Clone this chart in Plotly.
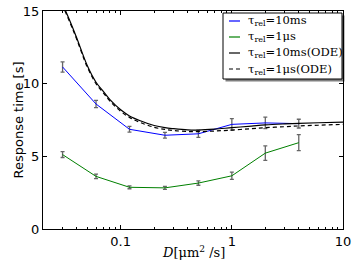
import plotly.graph_objects as go

D = [0.03, 0.06, 0.12, 0.25, 0.5, 1, 2, 4]
blue_vals = [11.15, 8.6, 6.86, 6.45, 6.55, 7.2, 7.3, 7.25]
blue_err = [0.35, 0.25, 0.2, 0.2, 0.25, 0.4, 0.4, 0.3]
green_vals = [5.12, 3.62, 2.87, 2.83, 3.16, 3.66, 5.22, 5.94]
green_err = [0.2, 0.15, 0.1, 0.1, 0.15, 0.25, 0.5, 0.55]

D_ode = [0.028, 0.035, 0.04, 0.05, 0.06, 0.07, 0.08, 0.1, 0.12, 0.15, 0.2, 0.25,
         0.3, 0.4, 0.5, 0.7, 1, 1.5, 2, 3, 4, 6, 10]
ode_10ms = [16.0, 14.3, 13.2, 11.25, 10.1, 9.45, 8.9, 8.2, 7.78, 7.45, 7.12, 6.97,
            6.9, 6.82, 6.81, 6.87, 6.97, 7.08, 7.16, 7.23, 7.27, 7.31, 7.36]
ode_1us = [15.9, 14.2, 13.1, 11.15, 10.0, 9.35, 8.8, 8.1, 7.68, 7.33, 7.0, 6.85,
           6.77, 6.71, 6.70, 6.74, 6.81, 6.9, 6.97, 7.04, 7.09, 7.14, 7.2]

names = ["τ<sub>rel</sub>=10ms", "τ<sub>rel</sub>=1μs",
         "τ<sub>rel</sub>=10ms(ODE)", "τ<sub>rel</sub>=1μs(ODE)"]
x_title = "<i>D</i>[μm<sup>2</sup> /s]"
y_title = "Response time [s]"

W, H = 354, 267
ML, MR, MT, MB = 43, 11, 11, 38
PW, PH = W - ML - MR, H - MT - MB


def px(x):
    return (x - ML) / PW


def py(y):
    return (H - MB - y) / PH


err_style = dict(type="data", visible=True, color="rgba(0,0,0,0.6)", thickness=1.3, width=2)
colors = ["#0000ff", "#008000", "black", "black"]
dashes = ["solid", "solid", "solid", "4px,3px"]

fig = go.Figure()
fig.add_trace(go.Scatter(x=D, y=blue_vals, mode="lines", name=names[0],
                         line=dict(color=colors[0], width=1),
                         error_y=dict(array=blue_err, **err_style)))
fig.add_trace(go.Scatter(x=D, y=green_vals, mode="lines", name=names[1],
                         line=dict(color=colors[1], width=1),
                         error_y=dict(array=green_err, **err_style)))
fig.add_trace(go.Scatter(x=D_ode, y=ode_10ms, mode="lines", name=names[2],
                         line=dict(color=colors[2], width=1.2, shape="spline")))
fig.add_trace(go.Scatter(x=D_ode, y=ode_1us, mode="lines", name=names[3],
                         line=dict(color=colors[3], width=1.2, dash=dashes[3], shape="spline")))

# matplotlib-like legend box with shadow
bx0, bx1, by0, by1 = 223, 342, 13, 79
fig.add_shape(type="rect", xref="paper", yref="paper",
              x0=px(bx0 + 2.5), x1=px(bx1 + 2.5), y0=py(by1 + 2.5), y1=py(by0 + 2.5),
              fillcolor="rgba(0,0,0,0.5)", line=dict(width=0), layer="above")
fig.add_shape(type="rect", xref="paper", yref="paper",
              x0=px(bx0), x1=px(bx1), y0=py(by1), y1=py(by0),
              fillcolor="white", line=dict(color="black", width=1), layer="above")
row_y = [21, 37, 53, 69]
for name, c, d, ry in zip(names, colors, dashes, row_y):
    fig.add_shape(type="line", xref="paper", yref="paper",
                  x0=px(229), x1=px(240), y0=py(ry), y1=py(ry),
                  line=dict(color=c, width=1.2, dash=d), layer="above")
    fig.add_annotation(text=name, xref="paper", yref="paper", x=px(246), y=py(ry),
                       xanchor="left", yanchor="middle", showarrow=False,
                       font=dict(family="DejaVu Serif", size=11.5, color="black"))

fig.add_annotation(text=x_title, xref="paper", yref="paper", x=0.5, y=py(252),
                   xanchor="center", yanchor="middle", showarrow=False,
                   font=dict(family="DejaVu Serif", size=13))
fig.add_annotation(text=y_title, xref="paper", yref="paper", x=px(17.5), y=0.5,
                   xanchor="center", yanchor="middle", showarrow=False, textangle=-90,
                   font=dict(family="DejaVu Sans", size=13))

fig.update_layout(
    width=W, height=H,
    margin=dict(l=ML, r=MR, t=MT, b=MB),
    paper_bgcolor="white", plot_bgcolor="white",
    font=dict(family="DejaVu Sans", size=13, color="black"),
    showlegend=False,
    xaxis=dict(type="log", range=[-1.69897, 1], showgrid=False, zeroline=False,
               automargin=False,
               showline=True, linecolor="black", linewidth=1, mirror="ticks",
               ticks="inside", ticklen=4, tickcolor="black",
               tickvals=[0.1, 1, 10], ticktext=["0.1", "1", "10"],
               minor=dict(ticks="inside", ticklen=2, tickcolor="black",
                          tickvals=[0.02, 0.03, 0.04, 0.05, 0.06, 0.07, 0.08, 0.09,
                                    0.2, 0.3, 0.4, 0.5, 0.6, 0.7, 0.8, 0.9,
                                    2, 3, 4, 5, 6, 7, 8, 9])),
    yaxis=dict(range=[0, 15], showgrid=False, zeroline=False,
               automargin=False,
               showline=True, linecolor="black", linewidth=1, mirror="ticks",
               ticks="inside", ticklen=4, tickcolor="black",
               tickvals=[0, 5, 10, 15]),
)

fig.write_html("out.html", config={"displayModeBar": False},
               post_script="document.body.style.margin='0';")
